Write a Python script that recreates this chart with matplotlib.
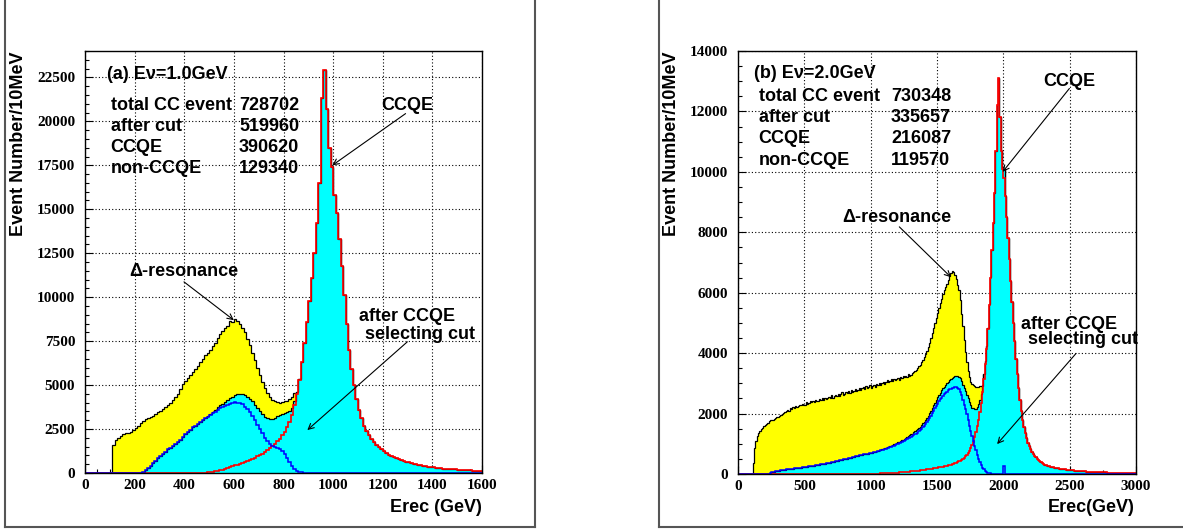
import numpy as np
import matplotlib
matplotlib.use("Agg")
import matplotlib.pyplot as plt
from matplotlib.ticker import MultipleLocator
from matplotlib.lines import Line2D

# ---------------- data (bin width 10, bin left edges 0,10,20,...) ----------------
BIN = 10

# panel (a)  Ev = 1.0 GeV, range 0..1600 (160 bins)
a_total_cc = ([0] * 11 + [
    1600, 1900, 2000, 2100, 2200, 2250, 2300, 2350, 2450, 2580,
    2700, 2850, 2950, 3050, 3100, 3200, 3250, 3350, 3450, 3550,
    3650, 3750, 3850, 4000, 4150, 4350, 4500, 4800, 5050, 5250,
    5400, 5550, 5750, 5900, 6100, 6300, 6500, 6700, 6800, 7000,
    7250, 7400, 7650, 7900, 8050, 8250, 8350, 8650, 8600, 8750,
    8650, 8500, 8250, 8000, 7600, 7300, 6850, 6400, 5950, 5600,
    5200, 4850, 4550, 4300, 4150, 4100, 4050, 4000, 4050, 4100,
    4100, 4200, 4350, 4550] + [0] * 75)   # above 850 hidden under the after-cut histogram

a_ccqe = ([0] * 48 + [
    20, 40, 60, 80, 100, 130, 160, 190, 230, 270,
    320, 370, 430, 480, 530, 590, 640, 700, 760, 820,
    880, 940, 1000, 1100, 1200, 1310, 1420, 1530, 1650, 1800,
    1950, 2150, 2350, 2600, 2900, 3300, 3850, 4500, 5300, 6300,
    7400, 8600, 9800, 11100, 12500, 14200, 16500, 21300, 22900, 20700,
    18500, 17400, 15800, 14800, 13300, 11800, 10100, 8500, 7000, 5900,
    5000, 4200, 3600, 3100, 2700, 2400, 2150, 1950, 1780, 1620,
    1480, 1350, 1230, 1130, 1050, 980, 900, 840, 780, 730,
    680, 640, 600, 560, 520, 490, 460, 430, 400, 380,
    360, 340, 320, 300, 285, 270, 255, 240, 230, 220,
    210, 200, 190, 180, 170, 165, 155, 150, 140, 135,
    130, 120])

a_nonccqe = ([0] * 23 + [
    40, 150, 300, 420, 550, 700, 830, 950, 1080, 1200,
    1350, 1450, 1550, 1650, 1780, 1900, 2050, 2200, 2350, 2450,
    2600, 2700, 2800, 2900, 3000, 3100, 3200, 3300, 3400, 3480,
    3600, 3680, 3750, 3820, 3880, 3930, 3980, 4020, 4000, 3980,
    3900, 3780, 3620, 3450, 3250, 3000, 2750, 2500, 2250, 2000,
    1820, 1650, 1530, 1480, 1430, 1350, 1230, 1080, 850, 620,
    400, 230, 120, 60, 30, 15, 5, 2] + [0] * 69)

# panel (b)  Ev = 2.0 GeV, range 0..3000 (300 bins)
b_total_cc = ([0] * 11 + [
    350, 850, 1100, 1250, 1350, 1420, 1480, 1530, 1580, 1620,
    1660, 1700, 1740, 1780, 1800, 1780, 1820, 1850, 1870, 1900,
    1930, 1960, 1980, 2030, 2040, 2090, 2120, 2100, 2170, 2160,
    2210, 2200, 2260, 2220, 2240, 2290, 2270, 2320, 2280, 2300,
    2370, 2330, 2360, 2410, 2370, 2400, 2380, 2460, 2410, 2430,
    2470, 2450, 2500, 2440, 2530, 2470, 2520, 2550, 2500, 2600,
    2530, 2570, 2620, 2580, 2660, 2590, 2640, 2700, 2620, 2660,
    2700, 2680, 2740, 2690, 2780, 2720, 2750, 2820, 2740, 2790,
    2840, 2770, 2830, 2880, 2810, 2900, 2850, 2870, 2930, 2860,
    2920, 2960, 2890, 2980, 2950, 3020, 2940, 3000, 3060, 2990,
    3040, 3100, 3030, 3080, 3130, 3070, 3150, 3100, 3140, 3190,
    3120, 3200, 3170, 3230, 3210, 3260, 3220, 3300, 3250, 3290,
    3340, 3360, 3400, 3450, 3500, 3560, 3620, 3700, 3780, 3870,
    3970, 4080, 4200, 4340, 4500, 4660, 4830, 5000, 5170, 5340,
    5500, 5650, 5800, 5950, 6080, 6200, 6300, 6420, 6550, 6650,
    6720, 6680, 6600, 6450, 6250, 6100, 5750, 5300, 4900, 4450,
    4050, 3700, 3400, 3200, 3050, 2980, 2930, 2900, 2880, 2870,
    2880, 2900, 2920, 2950] + [0] * 115)

b_ccqe = ([0] * 100 + [
    10, 10, 12, 12, 14, 15, 16, 18, 19, 20,
    22, 24, 26, 28, 30, 32, 35, 38, 40, 43,
    46, 50, 53, 57, 60, 64, 68, 72, 76, 80,
    85, 90, 95, 100, 105, 110, 115, 120, 126, 132,
    138, 144, 150, 156, 163, 170, 177, 184, 192, 200,
    208, 216, 225, 234, 243, 253, 263, 273, 285, 297,
    310, 325, 340, 357, 375, 395, 418, 443, 472, 505,
    545, 590, 640, 700, 770, 850, 950, 1070, 1210, 1380,
    1580, 1800, 2050, 2350, 2700, 3150, 3650, 4150, 4800, 5600,
    6500, 7400, 8300, 9300, 10700, 12200, 13100, 11800, 10700, 10100,
    9800, 9200, 8500, 7800, 7100, 6400, 5700, 5000, 4400, 3800,
    3300, 2850, 2450, 2100, 1800, 1550, 1350, 1180, 1040, 920,
    820, 740, 670, 610, 555, 505, 460, 420, 385, 355,
    330, 310, 292, 276, 262, 248, 236, 224, 213, 203,
    194, 185, 177, 169, 162, 155, 149, 143, 137, 132,
    127, 122, 117, 113, 109, 105, 101, 97, 94, 90,
    87, 84, 81, 78, 76, 73, 71, 68, 66, 64,
    62, 60, 58, 56, 55, 53, 52, 50, 49, 47,
    46, 45, 44, 42, 41, 40, 39, 38, 37, 36,
    35, 34, 34, 33, 32, 31, 31, 30, 29, 29])

b_nonccqe = ([0] * 24 + [
    20, 50, 70, 80, 90, 100, 105, 110, 120, 125,
    130, 140, 150, 155, 160, 165, 170, 180, 185, 190,
    200, 205, 210, 215, 220, 225, 230, 240, 245, 250,
    260, 265, 270, 280, 290, 295, 300, 310, 320, 325,
    335, 345, 350, 360, 370, 380, 390, 400, 410, 420,
    430, 440, 450, 460, 470, 480, 490, 500, 510, 520,
    530, 545, 555, 570, 580, 595, 605, 620, 630, 645,
    650, 655, 660, 665, 670, 680,
    690, 700, 715, 725, 740, 750, 765, 780, 795, 810,
    825, 840, 855, 870, 885, 900, 920, 940, 960, 980,
    1000, 1020, 1040, 1060, 1080, 1100, 1125, 1150, 1175, 1200,
    1225, 1250, 1280, 1310, 1340, 1370, 1410, 1450, 1490, 1540,
    1590, 1650, 1710, 1780, 1850, 1930, 2010, 2090, 2170, 2250,
    2330, 2400, 2470, 2530, 2590, 2640, 2690, 2730, 2770, 2800,
    2820, 2840, 2860, 2870, 2880, 2860, 2800, 2720, 2600, 2450,
    2300, 2150, 1980, 1800, 1600, 1420, 1250, 1100, 930, 780,
    640, 510, 390, 290, 210, 150, 100, 70, 45, 30,
    20, 12, 8, 5] + [0] * 6 + [280] + [0] * 99)

a_table = [("total CC event", "728702"), ("after cut", "519960"),
           ("CCQE", "390620"), ("non-CCQE", "129340")]
b_table = [("total CC event", "730348"), ("after cut", "335657"),
           ("CCQE", "216087"), ("non-CCQE", "119570")]

# ---------------- figure ----------------
W, H = 1183, 529
plt.rcParams['font.family'] = ['Liberation Serif', 'DejaVu Serif']
plt.rcParams['font.weight'] = 'bold'
fig = plt.figure(figsize=(W / 100, H / 100), dpi=100)
fig.patch.set_facecolor('white')

SANS = ['Liberation Sans', 'DejaVu Sans']


def px_axes(x0, x1, ytop, ybot):
    return [x0 / W, 1 - ybot / H, (x1 - x0) / W, (ybot - ytop) / H]


axA = fig.add_axes(px_axes(85, 482, 51, 473))
axB = fig.add_axes(px_axes(738, 1136, 51, 474))


def draw_hists(ax, total, ccqe, nonccqe):
    cc = np.asarray(ccqe, float)
    nc = np.asarray(nonccqe, float)
    after = cc + nc
    tot = np.maximum(np.asarray(total, float), after)
    edges = np.arange(len(cc) + 1) * BIN
    ax.stairs(tot, edges, fill=True, facecolor='#ffff00', edgecolor='none', zorder=2)
    ax.stairs(tot, edges, color='black', lw=0.9, zorder=3)
    ax.stairs(after, edges, fill=True, facecolor='#00ffff', edgecolor='none', zorder=4)
    ax.stairs(after, edges, color='black', lw=0.9, zorder=5)
    ax.stairs(cc, edges, color='#ff0000', lw=1.2, zorder=6)
    ax.stairs(nc, edges, color='#0000ff', lw=1.1, zorder=7, clip_on=False)


def style_axes(ax, xmax, ymax, xmaj, xmin, ymaj, ymin):
    ax.set_xlim(0, xmax)
    ax.set_ylim(0, ymax)
    ax.xaxis.set_major_locator(MultipleLocator(xmaj))
    ax.xaxis.set_minor_locator(MultipleLocator(xmin))
    ax.yaxis.set_major_locator(MultipleLocator(ymaj))
    ax.yaxis.set_minor_locator(MultipleLocator(ymin))
    ax.set_axisbelow(True)
    ax.grid(True, which='major', color='black', linestyle=(0, (1, 2)), lw=0.8)
    ax.tick_params(which='both', direction='in', top=False, right=False,
                   labelsize=11, width=0.8)
    ax.tick_params(which='major', length=6)
    ax.tick_params(which='minor', length=3)
    ax.tick_params(axis='y', pad=7)
    ax.tick_params(axis='x', pad=4)
    for sp in ax.spines.values():
        sp.set_linewidth(1.0)
        sp.set_zorder(8)


def annotate(ax, title, title_xy, table, lab_x, num_x, y0, dy,
             ccqe_xy, ccqe_arrow, res_xy, res_arrow, cut1_xy, cut2_xy, cut_arrow):
    kw = dict(family=SANS, weight='bold', zorder=10)
    ax.text(*title_xy, title, ha='left', va='center', fontsize=13, **kw)
    for i, (lab, num) in enumerate(table):
        ax.text(lab_x, y0 - i * dy, lab, ha='left', va='center', fontsize=13, **kw)
        ax.text(num_x, y0 - i * dy, num, ha='left', va='center', fontsize=13, **kw)
    ax.text(*ccqe_xy, "CCQE", ha='center', va='center', fontsize=13, **kw)
    ax.text(*res_xy, "Δ-resonance", ha='center', va='center', fontsize=13, **kw)
    ax.text(*cut1_xy, "after CCQE", ha='center', va='center', fontsize=13, **kw)
    ax.text(*cut2_xy, "selecting cut", ha='center', va='center', fontsize=13, **kw)
    for start, tip in (ccqe_arrow, res_arrow, cut_arrow):
        ax.annotate('', xy=tip, xytext=start, zorder=10,
                    arrowprops=dict(arrowstyle='->', color='black', lw=0.8,
                                    shrinkA=0, shrinkB=0, mutation_scale=10))


draw_hists(axA, a_total_cc, a_ccqe, a_nonccqe)
style_axes(axA, 1600, 24000, 200, 50, 2500, 500)
annotate(axA, "(a) Eν=1.0GeV", (87, 22670), a_table, 103, 621, 20900, 1190,
         (1298, 20900), ((1292, 20440), (997, 17500)),
         (399, 11440), ((399, 10870), (600, 8690)),
         (1298, 8920), (1350, 7900), ((1299, 7460), (896, 2440)))

draw_hists(axB, b_total_cc, b_ccqe, b_nonccqe)
style_axes(axB, 3000, 14000, 500, 250, 2000, 500)
annotate(axB, "(b) Eν=2.0GeV", (123, 13240), b_table, 156, 1153, 12490, 700,
         (2498, 12980), ((2498, 12760), (1995, 10000)),
         (1199, 8480), ((1216, 8180), (1606, 6510)),
         (2498, 4950), (2598, 4460), ((2548, 3990), (1953, 990)))

# axis titles
tkw = dict(family=SANS, weight='bold', fontsize=13)
fig.text(18.5 / W, 1 - 52 / H, "Event Number/10MeV", rotation=90, ha='center', va='top', **tkw)
fig.text(671 / W, 1 - 51 / H, "Event Number/10MeV", rotation=90, ha='center', va='top', **tkw)
fig.text(482 / W, 1 - 508 / H, "Erec (GeV)", ha='right', va='center', **tkw)
fig.text(1135 / W, 1 - 507 / H, "Erec(GeV)", ha='right', va='center', **tkw)

# pad borders
for (x0, y0), (x1, y1) in [((5, 0), (5, 527)), ((5, 527), (535, 527)), ((535, 0), (535, 527)),
                           ((659, 0), (659, 527)), ((659, 527), (1183, 527))]:
    fig.add_artist(Line2D([x0 / W, x1 / W], [1 - y0 / H, 1 - y1 / H],
                          color='#555555', lw=1.5))

fig.savefig("out.png", dpi=100, facecolor='white')
